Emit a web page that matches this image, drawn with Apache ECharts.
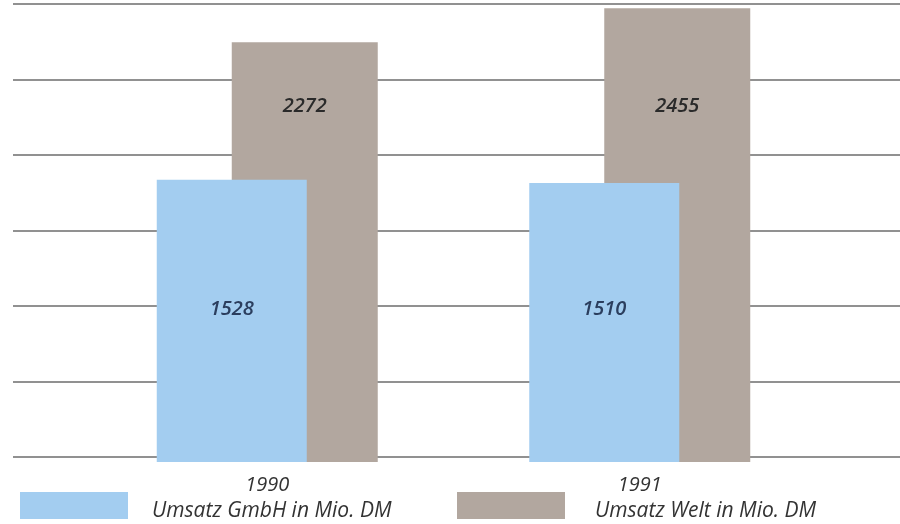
<!DOCTYPE html>
<html><head><meta charset="utf-8">
<script src="https://cdn.jsdelivr.net/npm/echarts@6/dist/echarts.min.js"></script>
<style>html,body{margin:0;padding:0;background:#fff}#c{width:900px;height:524px}</style>
</head><body><div id="c"></div>
<script>
const categories = ['1990', '1991'];
const umsatzGmbH = [1528, 1510];
const umsatzWelt = [2272, 2455];
const seriesNames = ['Umsatz GmbH in Mio. DM', 'Umsatz Welt in Mio. DM'];

const chart = echarts.init(document.getElementById('c'), null, {renderer: 'canvas'});
const FONT = 'Open Sans';
const labelStyle = (color) => ({
  show: true, position: 'insideTop', fontFamily: FONT, fontStyle: 'italic',
  fontWeight: 600, fontSize: 20, color: color
});
const layoutAt = (y) => (p) => ({
  x: p.rect.x + p.rect.width / 2, y: y, align: 'center', verticalAlign: 'middle'
});
const legendText = (gap) => ({
  fontFamily: FONT, fontStyle: 'italic', fontSize: 21, color: '#333',
  rich: {
    s: {lineHeight: 11, fontSize: 1},
    a: {fontFamily: FONT, fontStyle: 'italic', fontSize: 21, color: '#333',
        lineHeight: 25, padding: [0, 0, 0, gap]}
  }
});
chart.setOption({
  animation: false,
  grid: [
    {left: 13, right: 0, top: 4, bottom: 67},
    {left: 81, right: 74, top: 0, bottom: 62}
  ],
  xAxis: [
    {gridIndex: 0, type: 'category', data: categories, show: false},
    {gridIndex: 1, type: 'category', data: categories,
     axisLine: {show: false}, axisTick: {show: false},
     axisLabel: {fontFamily: FONT, fontStyle: 'italic', fontSize: 20, color: '#333', margin: 13}}
  ],
  yAxis: [
    {gridIndex: 0, type: 'value', min: 0, max: 2400, interval: 400,
     axisLabel: {show: false}, axisLine: {show: false}, axisTick: {show: false},
     splitLine: {show: true, lineStyle: {color: '#6c6c6c', width: 1.5}}},
    {gridIndex: 1, type: 'value', min: 0, max: 2500, show: false,
     splitLine: {show: false}}
  ],
  legend: [
    {data: [seriesNames[0]], left: 20, top: 492, itemWidth: 108, itemHeight: 27,
     icon: 'rect', itemGap: 0, padding: 0,
     formatter: '{s| }\n{a|{name}}', textStyle: legendText(19)},
    {data: [seriesNames[1]], left: 457, top: 492, itemWidth: 108, itemHeight: 27,
     icon: 'rect', itemGap: 0, padding: 0,
     formatter: '{s| }\n{a|{name}}', textStyle: legendText(25)}
  ],
  series: [
    {name: seriesNames[0], type: 'bar', xAxisIndex: 1, yAxisIndex: 1, data: umsatzGmbH,
     barWidth: 150, barGap: '-50%', z: 4,
     itemStyle: {color: '#a3cdf0'},
     label: labelStyle('#2b3e5e'),
     labelLayout: layoutAt(309)},
    {name: seriesNames[1], type: 'bar', xAxisIndex: 1, yAxisIndex: 1, data: umsatzWelt,
     barWidth: 146, z: 3,
     itemStyle: {color: '#b2a79f'},
     label: labelStyle('#2a2a2a'),
     labelLayout: layoutAt(106)}
  ]
});
</script></body></html>
